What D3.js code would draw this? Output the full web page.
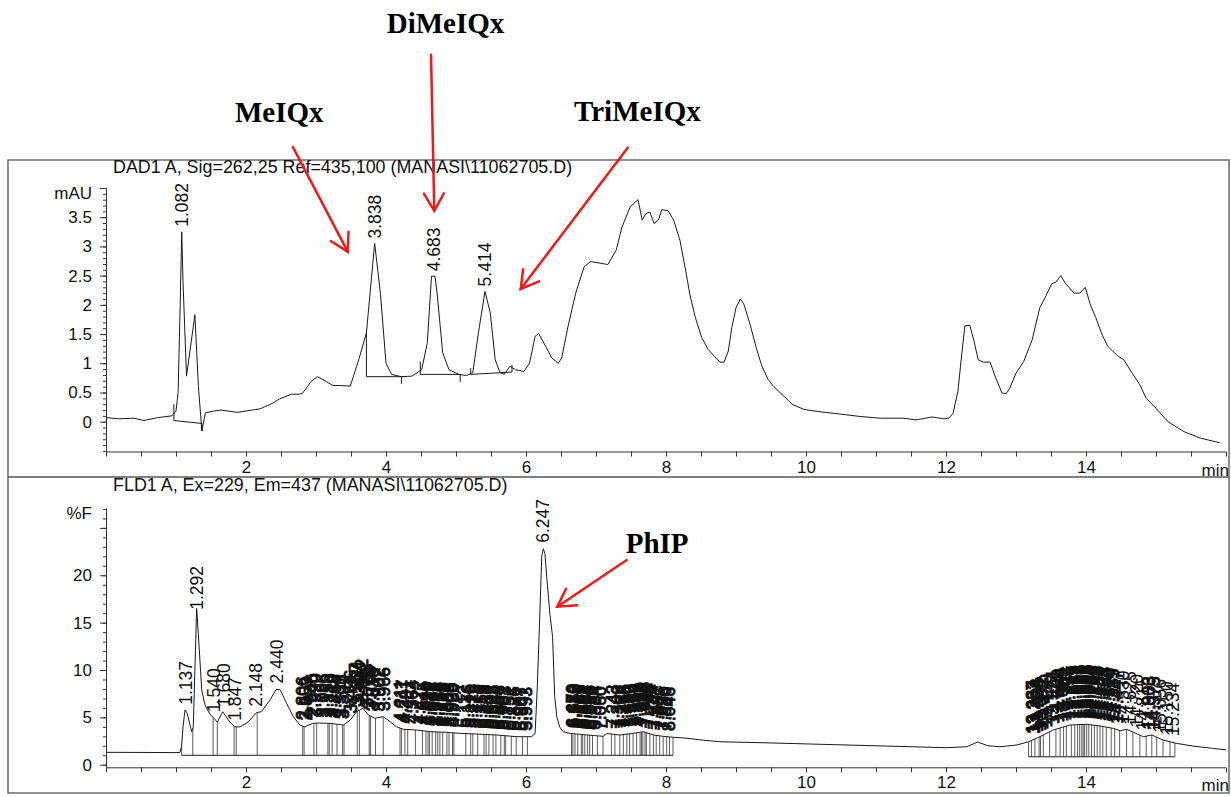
<!DOCTYPE html>
<html><head><meta charset="utf-8">
<script src="https://cdn.jsdelivr.net/npm/d3@7"></script>
<style>
body{margin:0;background:#fff;}
text{font-family:"Liberation Sans",Arial,sans-serif;fill:#111;}
text.note{font-family:"Liberation Serif","Times New Roman",serif;font-weight:bold;fill:#000;}
</style></head><body>
<svg id="c" width="1231" height="797"></svg>
<script>
// ---------------- DATA ----------------
const dadTitle = "DAD1 A, Sig=262,25 Ref=435,100 (MANASI\\11062705.D)";
const fldTitle = "FLD1 A, Ex=229, Em=437 (MANASI\\11062705.D)";
const dadUnit = "mAU";
const fldUnit = "%F";
const timeUnit = "min";

// DAD signal (time min, mAU)
const dadTrace = [[0,0.07],[0.18,0.05],[0.40,0.06],[0.54,0.02],[0.74,0.07],[0.94,0.10],[1.0,0.18],[1.03,0.5],[1.06,2.0],[1.082,3.25],[1.10,2.4],[1.15,0.78],[1.27,1.83],[1.32,0.6],[1.37,-0.16],[1.42,0.15],[1.53,0.18],[1.64,0.2],[1.87,0.16],[2.09,0.2],[2.2,0.22],[2.37,0.31],[2.48,0.39],[2.65,0.47],[2.76,0.47],[2.81,0.49],[2.93,0.69],[3.02,0.77],[3.1,0.72],[3.24,0.62],[3.33,0.62],[3.49,0.61],[3.61,1.06],[3.72,1.52],[3.838,3.05],[3.92,2.2],[4.0,1.0],[4.08,0.81],[4.22,0.77],[4.37,0.78],[4.51,0.89],[4.59,1.35],[4.65,2.49],[4.70,2.49],[4.73,2.2],[4.81,1.18],[4.9,0.89],[5.04,0.81],[5.15,0.79],[5.24,0.84],[5.32,1.52],[5.414,2.23],[5.49,1.86],[5.56,1.06],[5.63,0.84],[5.69,0.81],[5.77,0.95],[5.85,0.89],[5.97,0.86],[6.05,1.0],[6.13,1.46],[6.18,1.51],[6.28,1.29],[6.37,1.09],[6.46,1.0],[6.51,1.09],[6.6,1.63],[6.71,2.2],[6.83,2.65],[6.92,2.74],[7.03,2.72],[7.17,2.69],[7.29,2.94],[7.37,3.33],[7.49,3.68],[7.6,3.80],[7.66,3.45],[7.71,3.56],[7.77,3.59],[7.83,3.39],[7.89,3.45],[7.94,3.63],[8.03,3.61],[8.11,3.45],[8.2,3.10],[8.29,2.53],[8.34,2.18],[8.42,1.78],[8.51,1.44],[8.6,1.24],[8.69,1.12],[8.77,1.02],[8.83,1.02],[8.89,1.21],[8.94,1.61],[9.0,1.95],[9.06,2.10],[9.11,2.02],[9.2,1.67],[9.29,1.26],[9.37,0.95],[9.46,0.72],[9.54,0.60],[9.69,0.43],[9.8,0.30],[9.97,0.21],[10.2,0.17],[10.49,0.13],[10.77,0.09],[11.06,0.06],[11.4,0.06],[11.57,0.03],[11.8,0.08],[11.97,0.05],[12.04,0.06],[12.1,0.14],[12.17,0.52],[12.23,1.21],[12.27,1.64],[12.34,1.65],[12.4,1.38],[12.46,1.06],[12.53,1.02],[12.63,1.02],[12.71,0.75],[12.8,0.49],[12.86,0.48],[12.91,0.57],[13.0,0.83],[13.11,1.03],[13.23,1.40],[13.34,1.95],[13.43,2.16],[13.51,2.36],[13.57,2.39],[13.64,2.50],[13.71,2.36],[13.83,2.20],[13.91,2.20],[13.99,2.30],[14.06,2.01],[14.14,1.78],[14.23,1.49],[14.31,1.29],[14.46,1.12],[14.54,1.06],[14.66,0.83],[14.77,0.63],[14.86,0.40],[15.0,0.23],[15.17,0.0],[15.4,-0.17],[15.63,-0.28],[15.91,-0.36]];

const dadPeaks = [1.082, 3.838, 4.683, 5.414];
// integration baselines [t0, v0, t1, v1]
const dadBaselines = [[0.97,0.02,1.37,-0.03],[3.72,0.77,4.25,0.77],[4.49,0.81,5.06,0.81],[5.21,0.81,5.80,0.85]];
// peak start/end marks [t, vFrom, vTo]
const dadMarks = [[0.97,0.02,0.30],[1.37,-0.03,-0.16],[3.72,0.77,1.52],[4.22,0.77,0.65],[4.49,0.81,1.03],[5.06,0.81,0.68],[5.21,0.81,0.92],[5.80,0.85,0.97]];

// FLD signal (time min, %F)
const fldTrace = [[0,1.31],[0.5,1.30],[1.0,1.28],[1.057,1.3],[1.08,1.95],[1.10,4.0],[1.129,5.78],[1.16,5.43],[1.2,4.2],[1.224,3.49],[1.247,4.0],[1.27,10.0],[1.295,16.5],[1.33,12.5],[1.367,7.9],[1.414,6.3],[1.486,5.3],[1.53,5.0],[1.59,4.5],[1.667,5.6],[1.77,4.5],[1.84,4.0],[1.914,4.0],[2.03,4.5],[2.15,5.5],[2.22,5.6],[2.343,6.83],[2.43,7.96],[2.49,7.9],[2.58,6.48],[2.676,5.07],[2.77,4.19],[2.84,4.0],[2.95,4.36],[3.01,4.4],[3.2,4.37],[3.39,4.19],[3.49,4.72],[3.58,5.6],[3.67,5.96],[3.75,5.25],[3.84,4.9],[3.96,5.07],[4.06,4.54],[4.15,4.0],[4.25,3.74],[4.44,3.66],[4.63,3.49],[4.87,3.42],[5.06,3.31],[5.3,3.24],[5.58,3.14],[5.87,2.96],[6.08,2.96],[6.13,3.3],[6.16,8.0],[6.19,14.2],[6.225,22.0],[6.247,22.8],[6.27,22.3],[6.30,19.5],[6.34,16.0],[6.38,13.5],[6.41,7.2],[6.44,5.07],[6.48,4.0],[6.53,3.49],[6.63,3.31],[6.87,3.14],[7.1,3.0],[7.15,3.3],[7.34,3.14],[7.53,3.31],[7.68,3.49],[7.82,3.14],[7.96,3.0],[8.1,2.9],[8.3,2.8],[8.52,2.6],[8.77,2.43],[9.5,2.3],[10.0,2.2],[10.5,2.1],[11.0,2.0],[11.5,1.9],[12.0,1.8],[12.3,1.9],[12.45,2.4],[12.6,2.0],[12.77,1.9],[13.01,2.08],[13.18,2.43],[13.34,2.96],[13.53,3.66],[13.77,4.19],[14.01,4.27],[14.2,4.09],[14.39,3.84],[14.49,3.59],[14.58,3.74],[14.82,2.96],[14.94,3.14],[15.1,2.61],[15.29,2.26],[15.53,1.97],[15.81,1.73],[16.0,1.58]];

const fldPeaks = [1.137,1.292,1.540,1.680,1.847,2.148,2.440,
 2.806,2.853,2.946,2.990,3.096,3.159,3.210,3.268,3.338,3.391,3.496,3.567,3.604,3.662,3.733,3.768,3.813,3.902,3.966,
 4.211,4.247,4.291,4.364,4.472,4.545,4.590,4.612,4.641,4.692,4.723,4.756,4.793,4.842,4.889,4.925,4.960,
 5.112,5.176,5.226,5.278,5.356,5.418,5.451,5.502,5.548,5.606,5.661,5.703,5.751,5.825,5.907,5.947,5.993,
 6.247,
 6.670,6.686,6.718,6.765,6.801,6.827,6.861,6.896,6.930,6.984,7.060,
 7.243,7.306,7.364,7.416,7.460,7.505,7.556,7.604,7.640,7.662,7.688,7.712,7.746,7.794,7.841,7.887,7.935,7.986,8.046,
 13.237,13.252,13.298,13.341,13.372,13.430,13.524,13.600,13.655,13.702,13.755,13.815,13.862,13.896,13.925,13.951,13.972,13.995,14.025,14.061,14.100,14.143,14.180,14.221,14.265,14.326,14.385,14.447,14.530,14.625,14.720,14.815,14.903,14.975,15.056,15.150,15.234];

const fldDrops = [1.08,1.24,1.53,1.59,1.83,1.86,2.16,
 2.81,2.83,2.97,3.01,3.17,3.19,3.23,3.30,3.38,3.40,3.59,3.62,3.76,3.78,3.85,3.96,
 4.20,4.22,4.27,4.31,4.42,4.52,4.57,4.60,4.62,4.66,4.71,4.74,4.77,4.81,4.87,4.90,4.95,4.97,
 5.14,5.21,5.24,5.31,5.40,5.43,5.47,5.53,5.57,5.64,5.69,5.71,5.79,5.86,5.95,6.02,
 6.65,6.67,6.70,6.74,6.79,6.81,6.84,6.88,6.91,6.95,7.02,7.10,
 7.22,7.27,7.34,7.39,7.44,7.48,7.53,7.58,7.63,7.65,7.67,7.70,7.72,7.77,7.82,7.86,7.91,7.96,8.01,8.05,8.10,
 13.18,13.22,13.27,13.33,13.35,13.39,13.48,13.57,13.63,13.68,13.72,13.79,13.84,13.88,13.91,13.94,13.96,13.98,14.01,14.04,14.08,14.12,14.16,14.20,14.24,14.29,14.36,14.41,14.48,14.58,14.67,14.77,14.86,14.94,15.01,15.10,15.20,15.27];
// [t0, t1, level]
const fldBaselines = [[1.08,8.10,1.0],[13.18,15.27,0.84]];

const xTickLabels = [2,4,6,8,10,12,14];
const dadTickLabels = [0,0.5,1,1.5,2,2.5,3,3.5];
const fldTickLabels = [0,5,10,15,20];

// annotations: [text, t, v] (panel data units); arrows: [t0,v0,t1,v1]
const dadNotes = [["MeIQx",1.843,5.13],["DiMeIQx",4.01,6.65],["TriMeIQx",6.686,5.15]];
const dadArrows = [[2.671,4.70,3.453,2.91],[4.643,6.28,4.69,3.61],[7.453,4.69,5.924,2.27]];
const fldNotes = [["PhIP",7.424,22.38]];
const fldArrows = [[7.439,21.61,6.447,16.68]];

// ---------------- DRAW ----------------
const svg = d3.select("#c");
const x = d3.scaleLinear().domain([0,16]).range([106,1226]);
const yTop = d3.scaleLinear().domain([-0.51,4.0]).range([451.5,188]);
const yBot = d3.scaleLinear().domain([-0.27,27.1]).range([767.3,508]);
const fmt3 = d3.format(".3f");

function interp(arr,t){
  const i = d3.bisector(d=>d[0]).left(arr,t);
  if(i<=0) return arr[0][1];
  if(i>=arr.length) return arr[arr.length-1][1];
  const a=arr[i-1], b=arr[i];
  return a[1]+(b[1]-a[1])*(t-a[0])/(b[0]-a[0]);
}

// frame
svg.append("rect").attr("x",8).attr("y",160).attr("width",1221).attr("height",633)
  .attr("fill","none").attr("stroke","#555").attr("stroke-width",1.3);
svg.append("line").attr("x1",8).attr("x2",1229).attr("y1",477).attr("y2",477)
  .attr("stroke","#555").attr("stroke-width",1.3);

function panel(y, trace, title, titleY, unit, tickLabels, minorStep, minorFrom, majorExtra){
  const xa = svg.append("g").attr("transform",`translate(0,${y.range()[0]})`)
    .call(d3.axisBottom(x).tickValues(d3.range(0.5,16,0.5)).tickSizeOuter(0).tickSize(5).tickPadding(4)
      .tickFormat(d => xTickLabels.includes(d) ? d : ""));
  xa.selectAll("text").attr("font-size",17).attr("fill","#111");
  xa.selectAll("line,path").attr("stroke","#333");
  svg.append("text").attr("x",1229).attr("y",y.range()[0]+24).attr("text-anchor","end")
    .attr("font-size",17).text(timeUnit);
  const top = y.domain()[1];
  const minors = d3.range(minorFrom, top+1e-9, minorStep);
  const ym = svg.append("g").attr("transform","translate(106,0)")
    .call(d3.axisLeft(y).tickValues(minors).tickSize(3).tickFormat("").tickSizeOuter(0));
  ym.selectAll("line,path").attr("stroke","#333");
  const ya = svg.append("g").attr("transform","translate(106,0)")
    .call(d3.axisLeft(y).tickValues(tickLabels.concat(majorExtra)).tickSize(6).tickPadding(8).tickSizeOuter(0)
      .tickFormat(d => tickLabels.includes(d) ? String(d) : ""));
  ya.selectAll("text").attr("font-size",17).attr("fill","#111");
  ya.selectAll("line,path").attr("stroke","#333");
  svg.append("text").attr("x",92).attr("y",y(top)+5).attr("dy","0.35em").attr("text-anchor","end")
    .attr("font-size",17).text(unit);
  svg.append("text").attr("x",113).attr("y",titleY).attr("font-size",17.9).text(title);
  svg.append("path").datum(trace)
    .attr("d", d3.line().x(d=>x(d[0])).y(d=>y(d[1])))
    .attr("fill","none").attr("stroke","#1a1a1a").attr("stroke-width",1);
}

panel(yTop, dadTrace, dadTitle, 173, dadUnit, dadTickLabels, 0.1, -0.5, [4.0]);
panel(yBot, fldTrace, fldTitle, 490.5, fldUnit, fldTickLabels, 1, 0, [25]);

// DAD baselines and marks
svg.append("g").selectAll("line").data(dadBaselines).join("line")
  .attr("x1",d=>x(d[0])).attr("y1",d=>yTop(d[1])).attr("x2",d=>x(d[2])).attr("y2",d=>yTop(d[3]))
  .attr("stroke","#1a1a1a").attr("stroke-width",1);
svg.append("g").selectAll("line").data(dadMarks).join("line")
  .attr("x1",d=>x(d[0])).attr("x2",d=>x(d[0])).attr("y1",d=>yTop(d[1])).attr("y2",d=>yTop(d[2]))
  .attr("stroke","#1a1a1a").attr("stroke-width",1);

// DAD peak labels
svg.append("g").selectAll("text").data(dadPeaks).join("text")
  .attr("transform",d=>`translate(${x(d)},${yTop(interp(dadTrace,d))-5}) rotate(-90)`)
  .attr("dy","0.35em").attr("font-size",17.5).text(d=>fmt3(d));

// FLD baselines and drop lines
svg.append("g").selectAll("line").data(fldBaselines).join("line")
  .attr("x1",d=>x(d[0])).attr("x2",d=>x(d[1])).attr("y1",d=>yBot(d[2])).attr("y2",d=>yBot(d[2]))
  .attr("stroke","#1a1a1a").attr("stroke-width",1);
function baseAt(t){ const b = fldBaselines.find(b=>t>=b[0]-1e-9 && t<=b[1]+1e-9); return b ? b[2] : 1.0; }
svg.append("g").selectAll("line").data(fldDrops).join("line")
  .attr("x1",d=>x(d)).attr("x2",d=>x(d)).attr("y1",d=>yBot(baseAt(d))).attr("y2",d=>yBot(interp(fldTrace,d)))
  .attr("stroke","#333").attr("stroke-width",0.8);
// crowded labels (neighbours closer than 0.08 min) get a heavier, scanned-print look
function crowded(d,i){
  const p = fldPeaks[i-1], n = fldPeaks[i+1];
  return (p!==undefined && d-p<0.08) || (n!==undefined && n-d<0.08);
}
svg.append("g").selectAll("text").data(fldPeaks).join("text")
  .attr("transform",d=>`translate(${x(d)},${yBot(interp(fldTrace,d))-6}) rotate(-90)`)
  .attr("dy","0.35em").attr("font-size",17.5)
  .attr("stroke",(d,i)=>crowded(d,i)?"#111":"none").attr("stroke-width",0.9)
  .text(d=>fmt3(d));

// annotations
const red = "#ee1a1a";
function arrows(y, data){
  data.forEach(a=>{
    const x0=x(a[0]), y0=y(a[1]), x1=x(a[2]), y1=y(a[3]);
    const ang = Math.atan2(y1-y0, x1-x0), L=20, s=Math.PI/6;
    const g = svg.append("g").attr("stroke",red).attr("stroke-width",2.5).attr("stroke-linecap","round").attr("fill","none");
    g.append("line").attr("x1",x0).attr("y1",y0).attr("x2",x1).attr("y2",y1);
    g.append("path").attr("d",
      `M${x1-L*Math.cos(ang-s)},${y1-L*Math.sin(ang-s)}L${x1},${y1}L${x1-L*Math.cos(ang+s)},${y1-L*Math.sin(ang+s)}`);
  });
}
function notes(y, data){
  svg.append("g").selectAll("text").data(data).join("text")
    .attr("class","note")
    .attr("x",d=>x(d[1])).attr("y",d=>y(d[2]))
    .attr("font-size",29).text(d=>d[0]);
}
arrows(yTop, dadArrows); arrows(yBot, fldArrows);
notes(yTop, dadNotes); notes(yBot, fldNotes);
</script>
</body></html>
